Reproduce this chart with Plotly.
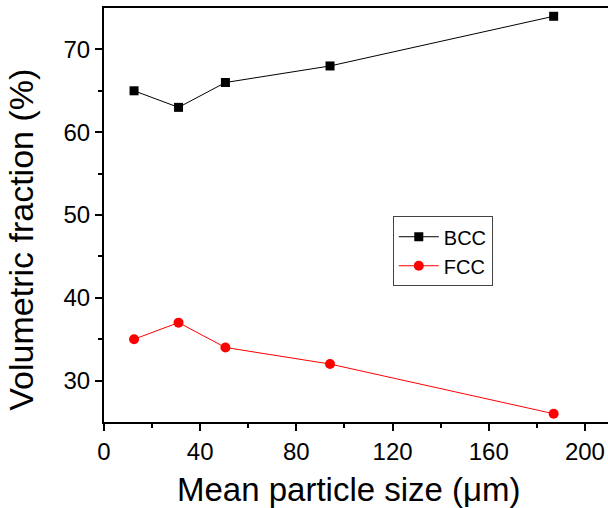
import plotly.graph_objects as go

size_um = [12.5, 31, 50.5, 94, 187]
bcc = [65, 63, 66, 68, 74]
fcc = [35, 37, 34, 32, 26]

x_ticks = [0, 40, 80, 120, 160, 200]
y_ticks = [30, 40, 50, 60, 70]
x_minor = [20, 60, 100, 140, 180]
y_minor = [35, 45, 55, 65]

font_family = "Liberation Sans, Arial, sans-serif"

fig = go.Figure()
fig.add_trace(go.Scatter(x=size_um, y=bcc, mode="lines+markers", name="BCC",
                         line=dict(color="black", width=1),
                         marker=dict(symbol="square", size=9, color="black")))
fig.add_trace(go.Scatter(x=size_um, y=fcc, mode="lines+markers", name="FCC",
                         line=dict(color="red", width=1),
                         marker=dict(symbol="circle", size=10, color="red")))

fig.update_layout(
    width=608, height=508,
    margin=dict(l=104, r=0, t=8, b=86),
    paper_bgcolor="white", plot_bgcolor="white",
    font=dict(family=font_family, color="black"),
    showlegend=True,
    legend=dict(x=0.573, y=0.497, xanchor="left", yanchor="top",
                bordercolor="#444444", borderwidth=1, bgcolor="white",
                font=dict(size=20, family=font_family), tracegroupgap=0,
                itemwidth=40),
    annotations=[
        dict(text="Mean particle size (μm)", xref="paper", yref="paper",
             x=0.486, y=-0.162, xanchor="center", yanchor="middle",
             showarrow=False, font=dict(size=33, family=font_family)),
        dict(text="Volumetric fraction (%)", xref="paper", yref="paper",
             x=-0.165, y=0.44, xanchor="center", yanchor="middle", textangle=-90,
             showarrow=False, font=dict(size=34, family=font_family)),
    ],
)
fig.update_xaxes(
    range=[0, 209.6], tickvals=x_ticks, ticks="outside", ticklen=7, tickwidth=2,
    tickcolor="black",
    showline=True, linecolor="black", linewidth=2, mirror=True,
    showgrid=False, zeroline=False,
    tickfont=dict(size=24, color="black"),
    minor=dict(tickvals=x_minor, ticks="outside", ticklen=4, tickwidth=2, tickcolor="black"),
)
fig.update_yaxes(
    range=[25, 75], tickvals=y_ticks, ticks="outside", ticklen=7, tickwidth=2,
    tickcolor="black",
    showline=True, linecolor="black", linewidth=2, mirror=False,
    showgrid=False, zeroline=False,
    tickfont=dict(size=24, color="black"),
    minor=dict(tickvals=y_minor, ticks="outside", ticklen=4, tickwidth=2, tickcolor="black"),
)

fig.write_html("out.html")
